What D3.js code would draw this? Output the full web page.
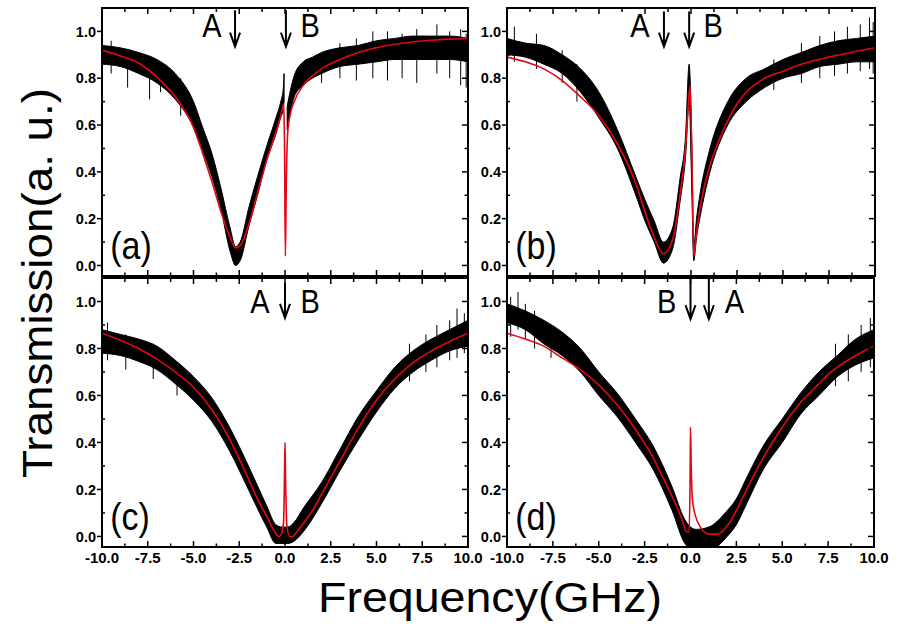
<!DOCTYPE html>
<html><head><meta charset="utf-8">
<script src="https://cdn.jsdelivr.net/npm/d3@7"></script>
<style>body{margin:0;background:#fff}svg{display:block}</style>
</head><body><svg id="chart" width="900" height="624"></svg>
<script>
// ---------- tick values ----------
const xTicks = [-10, -7.5, -5, -2.5, 0, 2.5, 5, 7.5, 10];
const xMinor = [-8.75, -6.25, -3.75, -1.25, 1.25, 3.75, 6.25, 8.75];
const yTicks = [0, 0.2, 0.4, 0.6, 0.8, 1.0];
const yMinor = [0.1, 0.3, 0.5, 0.7, 0.9];

// ---------- panel (a) ----------
const aFitF = [-10,-9,-8,-7,-6,-5,-4.5,-4,-3.5,-3,-2.7,-2.4,-2,-1.5,-1,-0.5,-0.2,-0.08,-0.03,0.02,0.07,0.15,0.3,0.5,1,1.5,2,3,4,5,6,7,8,9,10];
const aFitV = [0.92,0.895,0.865,0.805,0.72,0.59,0.48,0.36,0.23,0.12,0.075,0.09,0.17,0.31,0.45,0.57,0.65,0.69,0.55,0.04,0.35,0.57,0.65,0.70,0.77,0.81,0.84,0.88,0.91,0.93,0.945,0.955,0.962,0.967,0.97];
const aDataF  = [-10,-9,-8,-7,-6,-5,-4.5,-4,-3.5,-3,-2.7,-2.4,-2,-1.5,-1,-0.5,-0.2,-0.1,-0.05,0.0,0.12,0.3,0.5,1,1.5,2,3,4,5,6,7,8,9,10];
const aDataLo = [0.86,0.85,0.82,0.78,0.71,0.59,0.49,0.38,0.24,0.06,0.00,0.03,0.16,0.30,0.45,0.56,0.64,0.66,0.70,null,0.58,0.66,0.72,0.77,0.80,0.82,0.85,0.86,0.87,0.88,0.88,0.88,0.88,0.87];
const aDataHi = [0.94,0.93,0.91,0.88,0.82,0.70,0.59,0.48,0.33,0.16,0.08,0.11,0.24,0.38,0.51,0.63,0.71,0.75,0.82,null,0.68,0.75,0.81,0.87,0.89,0.91,0.93,0.94,0.96,0.97,0.98,0.98,0.98,0.97];
const aSpikeF  = [-9.5,-8.6,-7.4,-6.8,-5.7,2.0,3.0,3.9,4.8,5.6,6.4,7.2,8.3,9.0,9.6,9.9];
const aSpikeLo = [0.82,0.76,0.71,0.74,0.64,0.78,0.80,0.79,0.80,0.79,0.80,0.78,0.82,0.80,0.77,0.76];
const aSpikeHi = [0.96,0.92,0.85,0.86,0.80,0.90,0.95,0.97,1.00,1.00,0.99,1.01,1.03,1.00,1.01,0.99];
const aArrowF = [-2.73, 0.05];
const aLetters = ["A", "B"];
const aLetterF = [-4.0, 1.37];

// ---------- panel (b) ----------
const bFitF = [-10,-9,-8,-7,-6,-5,-4,-3,-2.5,-2,-1.5,-1,-0.6,-0.3,-0.15,-0.05,0.05,0.15,0.3,0.5,1,1.5,2,2.5,3,4,5,6,7.5,9,10];
const bFitV = [0.89,0.87,0.84,0.79,0.72,0.64,0.52,0.35,0.23,0.12,0.05,0.11,0.30,0.50,0.68,0.77,0.45,0.04,0.14,0.25,0.42,0.53,0.62,0.69,0.74,0.80,0.83,0.86,0.89,0.915,0.93];
const bDataF  = [-10,-9,-8,-7,-6,-5,-4,-3,-2.5,-2,-1.5,-1,-0.6,-0.3,-0.1,0.05,0.15,0.3,0.5,1,2,3,4,5,6,7,8,9,10];
const bDataLo = [0.90,0.89,0.86,0.82,0.74,0.63,0.50,0.30,0.19,0.10,0.01,0.07,0.27,0.46,0.70,0.30,0.02,0.12,0.21,0.39,0.60,0.70,0.76,0.80,0.82,0.85,0.86,0.87,0.87];
const bDataHi = [0.97,0.95,0.94,0.90,0.84,0.74,0.58,0.38,0.28,0.19,0.10,0.16,0.37,0.55,0.86,0.50,0.08,0.20,0.31,0.49,0.70,0.80,0.84,0.88,0.91,0.94,0.96,0.97,0.98];
const bSpikeF  = [-9.6,-8.4,-7.0,-6.2,4.5,6.0,7.0,7.8,8.5,9.2,9.7,9.9];
const bSpikeLo = [0.87,0.84,0.78,0.70,0.75,0.78,0.80,0.81,0.82,0.83,0.84,0.82];
const bSpikeHi = [1.02,0.99,0.92,0.86,0.88,0.95,0.98,1.00,1.02,1.03,1.06,1.04];
const bArrowF = [-1.47, -0.1];
const bLetters = ["A", "B"];
const bLetterF = [-2.77, 1.2];

// ---------- panel (c) ----------
const cFitF = [-10,-9,-8,-7,-6,-5,-4,-3,-2.5,-2,-1.5,-1,-0.6,-0.35,-0.2,-0.08,-0.02,0,0.03,0.1,0.25,0.4,0.7,1,1.5,2,2.5,3,4,5,6,7,8,9,10];
const cFitV = [0.865,0.835,0.80,0.755,0.70,0.635,0.54,0.41,0.33,0.245,0.16,0.085,0.025,0.0,0.01,0.06,0.30,0.40,0.25,0.05,0.0,0.0,0.025,0.055,0.11,0.18,0.25,0.32,0.46,0.58,0.67,0.74,0.79,0.83,0.865];
const cDataF  = [-10,-9,-8,-7,-6,-5,-4,-3,-2,-1,-0.5,-0.15,0.15,0.5,1,2,3,4,5,6,7,8,9,10];
const cDataLo = [0.78,0.77,0.745,0.71,0.65,0.58,0.49,0.36,0.20,0.04,-0.03,-0.03,-0.03,-0.02,0.02,0.14,0.28,0.41,0.53,0.63,0.70,0.75,0.79,0.81];
const cDataHi = [0.88,0.86,0.84,0.81,0.75,0.68,0.59,0.46,0.30,0.13,0.05,0.04,0.04,0.06,0.12,0.23,0.37,0.51,0.62,0.72,0.79,0.84,0.88,0.92];
const cSpikeF  = [-9.7,-8.7,-7.2,-5.9,6.8,7.7,8.3,9.0,9.4,9.8];
const cSpikeLo = [0.75,0.71,0.67,0.60,0.66,0.70,0.72,0.75,0.76,0.78];
const cSpikeHi = [0.91,0.86,0.82,0.74,0.82,0.86,0.90,0.92,0.97,0.95];
const cArrowF = [0.0];
const cLetters = ["A", "B"];
const cLetterF = [-1.37, 1.37];

// ---------- panel (d) ----------
const dFitF = [-10,-9,-8,-7,-6,-5,-4,-3,-2,-1.5,-1,-0.5,-0.2,-0.08,-0.02,0,0.04,0.1,0.3,0.5,1,1.5,2,2.5,3,4,5,6,7,7.5,8,9,10];
const dFitV = [0.865,0.84,0.81,0.76,0.71,0.645,0.56,0.455,0.33,0.25,0.17,0.08,0.02,0.02,0.25,0.465,0.30,0.16,0.08,0.045,0.01,0.01,0.045,0.11,0.19,0.34,0.465,0.57,0.65,0.69,0.72,0.77,0.81];
const dDataF  = [-10,-9,-8,-7,-6,-5,-4,-3,-2,-1,-0.3,0.3,1,2,2.5,3,4,5,6,7,8,9,10];
const dDataLo = [0.91,0.88,0.82,0.77,0.70,0.60,0.51,0.40,0.28,0.11,-0.03,-0.06,-0.06,0.00,0.05,0.13,0.29,0.40,0.52,0.60,0.68,0.73,0.76];
const dDataHi = [0.99,0.96,0.92,0.87,0.80,0.70,0.61,0.50,0.38,0.21,0.07,0.03,0.04,0.11,0.16,0.24,0.39,0.50,0.61,0.70,0.77,0.84,0.88];
const dSpikeF  = [-9.8,-9.4,-9.0,-8.5,-7.6,7.9,8.6,9.3,9.8];
const dSpikeLo = [0.85,0.88,0.84,0.80,0.76,0.64,0.66,0.70,0.72];
const dSpikeHi = [1.02,1.04,0.99,0.96,0.90,0.82,0.86,0.90,0.93];
const dArrowF = [0.0, 1.0];
const dLetters = ["B", "A"];
const dLetterF = [-1.3, 2.39];

const panelNames = ["(a)", "(b)", "(c)", "(d)"];

// ---------- layout ----------
const svg = d3.select("#chart");
const FONT = "'Liberation Sans', Arial, Helvetica, sans-serif";
const panels = [
  {name: panelNames[0], x0: 102, x1: 468, y0: 8,   y1: 276, fitF: aFitF, fitV: aFitV, dF: aDataF, dLo: aDataLo, dHi: aDataHi, sF: aSpikeF, sLo: aSpikeLo, sHi: aSpikeHi, arrows: aArrowF, letters: aLetters, letterF: aLetterF, arrTop: 1.09, arrTip: 0.935, letterV: 0.977, xLabels: false},
  {name: panelNames[1], x0: 507, x1: 875, y0: 8,   y1: 276, fitF: bFitF, fitV: bFitV, dF: bDataF, dLo: bDataLo, dHi: bDataHi, sF: bSpikeF, sLo: bSpikeLo, sHi: bSpikeHi, arrows: bArrowF, letters: bLetters, letterF: bLetterF, arrTop: 1.085, arrTip: 0.935, letterV: 0.977, xLabels: false},
  {name: panelNames[2], x0: 102, x1: 468, y0: 278, y1: 547, fitF: cFitF, fitV: cFitV, dF: cDataF, dLo: cDataLo, dHi: cDataHi, sF: cSpikeF, sLo: cSpikeLo, sHi: cSpikeHi, arrows: cArrowF, letters: cLetters, letterF: cLetterF, arrTop: 1.08, arrTip: 0.93, letterV: 0.953, xLabels: true},
  {name: panelNames[3], x0: 507, x1: 874, y0: 278, y1: 547, fitF: dFitF, fitV: dFitV, dF: dDataF, dLo: dDataLo, dHi: dDataHi, sF: dSpikeF, sLo: dSpikeLo, sHi: dSpikeHi, arrows: dArrowF, letters: dLetters, letterF: dLetterF, arrTop: 1.1, arrTip: 0.925, letterV: 0.95, xLabels: true}
];

const defs = svg.append("defs");
const fmt = d => d.toFixed(1);

panels.forEach((p, i) => {
  const x = d3.scaleLinear().domain([-10, 10]).range([p.x0, p.x1]);
  const y = d3.scaleLinear().domain([-0.045, 1.1]).range([p.y1, p.y0]);
  const g = svg.append("g");

  defs.append("clipPath").attr("id", "clip" + i)
    .append("rect").attr("x", p.x0).attr("y", p.y0).attr("width", p.x1 - p.x0).attr("height", p.y1 - p.y0);

  const plot = g.append("g").attr("clip-path", `url(#clip${i})`);

  // measured data (black band)
  const band = p.dF.map((f, k) => ({f, lo: p.dLo[k], hi: p.dHi[k]}));
  plot.append("path").datum(band)
    .attr("d", d3.area().defined(d => d.lo !== null).x(d => x(d.f)).y0(d => y(d.lo)).y1(d => y(d.hi)).curve(d3.curveMonotoneX))
    .attr("fill", "#000").attr("stroke", "#000").attr("stroke-width", 1);

  // noise spikes of the measured trace
  plot.append("g").selectAll("line").data(p.sF.map((f, k) => ({f, lo: p.sLo[k], hi: p.sHi[k]}))).join("line")
    .attr("x1", d => x(d.f)).attr("x2", d => x(d.f))
    .attr("y1", d => y(d.lo)).attr("y2", d => y(d.hi))
    .attr("stroke", "#000").attr("stroke-width", 1);

  // fit (red)
  const fit = p.fitF.map((f, k) => ({f, v: p.fitV[k]}));
  plot.append("path").datum(fit)
    .attr("d", d3.line().x(d => x(d.f)).y(d => y(d.v)).curve(d3.curveMonotoneX))
    .attr("fill", "none").attr("stroke", "#e30613").attr("stroke-width", 1.6);

  // ticks - bottom & top (inward)
  const tk = g.append("g").attr("stroke", "#000").attr("stroke-width", 1.5);
  xTicks.forEach(t => {
    tk.append("line").attr("x1", x(t)).attr("x2", x(t)).attr("y1", p.y1).attr("y2", p.y1 - 6);
    tk.append("line").attr("x1", x(t)).attr("x2", x(t)).attr("y1", p.y0).attr("y2", p.y0 + 6);
  });
  xMinor.forEach(t => {
    tk.append("line").attr("x1", x(t)).attr("x2", x(t)).attr("y1", p.y1).attr("y2", p.y1 - 3.5);
    tk.append("line").attr("x1", x(t)).attr("x2", x(t)).attr("y1", p.y0).attr("y2", p.y0 + 4);
  });
  yTicks.forEach(t => {
    tk.append("line").attr("x1", p.x0 - 5).attr("x2", p.x0).attr("y1", y(t)).attr("y2", y(t));
    tk.append("line").attr("x1", p.x1).attr("x2", p.x1 - 6).attr("y1", y(t)).attr("y2", y(t));
  });
  yMinor.forEach(t => {
    tk.append("line").attr("x1", p.x0).attr("x2", p.x0 + 3).attr("y1", y(t)).attr("y2", y(t));
    tk.append("line").attr("x1", p.x1).attr("x2", p.x1 - 3.5).attr("y1", y(t)).attr("y2", y(t));
  });

  // y tick labels
  g.append("g").selectAll("text").data(yTicks).join("text")
    .attr("x", p.x0 - 6).attr("y", d => y(d)).attr("dy", "0.36em")
    .attr("text-anchor", "end").attr("font-family", FONT).attr("font-weight", "bold")
    .attr("font-size", 14.5).text(fmt);

  if (p.xLabels) {
    g.append("g").selectAll("text").data(xTicks).join("text")
      .attr("x", d => x(d)).attr("y", p.y1 + 16)
      .attr("text-anchor", "middle").attr("font-family", FONT).attr("font-weight", "bold")
      .attr("font-size", 15).text(fmt);
  }

  // arrows
  p.arrows.forEach(f => {
    const ax = x(f), yt = y(p.arrTop), yb = y(p.arrTip);
    g.append("path")
      .attr("d", `M${ax},${yt}L${ax},${yb}M${ax - 5},${yb - 14}L${ax},${yb}L${ax + 5},${yb - 14}`)
      .attr("fill", "none").attr("stroke", "#000").attr("stroke-width", 2);
  });
  p.letters.forEach((L, k) => {
    g.append("text")
      .attr("transform", `translate(${x(p.letterF[k])},${y(p.letterV)}) scale(1,1.15)`)
      .attr("text-anchor", "middle").attr("font-family", FONT).attr("font-size", 29).text(L);
  });

  // panel label
  g.append("text")
    .attr("transform", `translate(${x(-9.55)},${y(0.026)}) scale(1,1.15)`)
    .attr("font-family", FONT).attr("font-size", 34).text(p.name);

  // frame
  g.append("rect").attr("x", p.x0).attr("y", p.y0).attr("width", p.x1 - p.x0).attr("height", p.y1 - p.y0)
    .attr("fill", "none").attr("stroke", "#000").attr("stroke-width", 2);
});

// axis titles
svg.append("text")
  .attr("transform", "translate(52,283) rotate(-90)")
  .attr("text-anchor", "middle").attr("font-family", FONT).attr("font-size", 42)
  .attr("textLength", 390).attr("lengthAdjust", "spacingAndGlyphs")
  .text("Transmission(a. u.)");
svg.append("text")
  .attr("x", 490).attr("y", 612)
  .attr("text-anchor", "middle").attr("font-family", FONT).attr("font-size", 42)
  .attr("textLength", 344).attr("lengthAdjust", "spacingAndGlyphs")
  .text("Frequency(GHz)");
</script></body></html>
